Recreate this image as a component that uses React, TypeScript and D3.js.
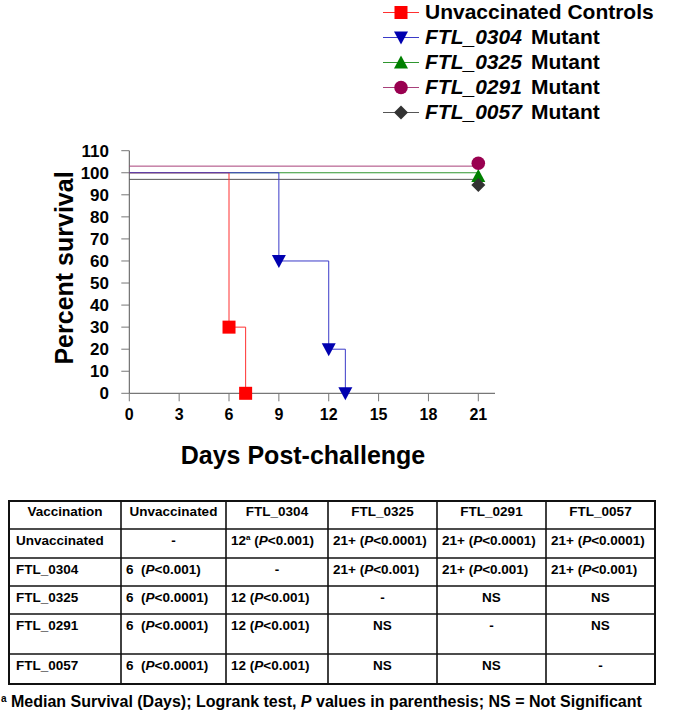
import React from "react";
import * as d3 from "d3";

const FONT = "'Liberation Sans', Arial, Helvetica, sans-serif";

// ---- survival data ----
const unvaccinated = [
  { day: 0, pct: 100 },
  { day: 6, pct: 30 },
  { day: 7, pct: 0 },
];
const ftl0304 = [
  { day: 0, pct: 100 },
  { day: 9, pct: 60 },
  { day: 12, pct: 20 },
  { day: 13, pct: 0 },
];
const ftl0325 = [
  { day: 0, pct: 100 },
  { day: 21, pct: 100 },
];
const ftl0291 = [
  { day: 0, pct: 103 },
  { day: 21, pct: 103 },
];
const ftl0057 = [
  { day: 0, pct: 97 },
  { day: 21, pct: 97 },
];
// marker positions (end markers are offset slightly in the original)
const unvaccinatedMarkers = [
  { day: 6, pct: 30 },
  { day: 7, pct: 0 },
];
const ftl0304Markers = [
  { day: 9, pct: 60 },
  { day: 12, pct: 20 },
  { day: 13, pct: 0 },
];
const ftl0325Markers = [{ day: 21, pct: 98.5 }];
const ftl0291Markers = [{ day: 21, pct: 104.3 }];
const ftl0057Markers = [{ day: 21, pct: 94.4 }];

const xTicks = [0, 3, 6, 9, 12, 15, 18, 21];
const yTicks = [0, 10, 20, 30, 40, 50, 60, 70, 80, 90, 100, 110];

const legendNames = ["Unvaccinated Controls", "FTL_0304", "FTL_0325", "FTL_0291", "FTL_0057"];

// ---- table data ----
const tableHeader = ["Vaccination", "Unvaccinated", "FTL_0304", "FTL_0325", "FTL_0291", "FTL_0057"];
const tableRowLabels = ["Unvaccinated", "FTL_0304", "FTL_0325", "FTL_0291", "FTL_0057"];
const tableCells = [
  ["-", "12^a|<0.001", "21+|<0.0001", "21+|<0.0001", "21+|<0.0001"],
  ["6 |<0.001", "-", "21+|<0.001", "21+|<0.001", "21+|<0.001"],
  ["6 |<0.0001", "12|<0.001", "-", "NS", "NS"],
  ["6 |<0.0001", "12|<0.001", "NS", "-", "NS"],
  ["6 |<0.0001", "12|<0.001", "NS", "NS", "-"],
];
const footnote = ["Median Survival (Days); Logrank test, ", "P", " values in parenthesis; NS = Not Significant"];

const colX = [9, 121, 226, 328, 437, 546, 655];
const rowY = [501, 529, 558, 586, 614, 654, 684];

const x = d3.scaleLinear().domain([0, 21]).range([129.3, 478.3]);
const y = d3.scaleLinear().domain([0, 110]).range([393.3, 150.7]);

const stepLine = d3
  .line<{ day: number; pct: number }>()
  .x((d) => x(d.day))
  .y((d) => y(d.pct))
  .curve(d3.curveStepAfter);

type Shape = "square" | "tridown" | "triup" | "circle" | "diamond";

function Marker({ shape, cx, cy, fill }: { shape: Shape; cx: number; cy: number; fill: string }) {
  if (shape === "square") return <rect x={cx - 6.5} y={cy - 6.5} width={13} height={13} fill={fill} />;
  if (shape === "circle") return <circle cx={cx} cy={cy} r={6.8} fill={fill} />;
  if (shape === "tridown")
    return <path d={`M${cx - 7},${cy - 6} L${cx + 7},${cy - 6} L${cx},${cy + 7} Z`} fill={fill} />;
  if (shape === "triup")
    return <path d={`M${cx - 7},${cy + 6} L${cx + 7},${cy + 6} L${cx},${cy - 7} Z`} fill={fill} />;
  return <path d={`M${cx},${cy - 7} L${cx + 7},${cy} L${cx},${cy + 7} L${cx - 7},${cy} Z`} fill={fill} />;
}

const seriesDefs = [
  { data: unvaccinated, markers: unvaccinatedMarkers, line: "#ff3030", fill: "#ff0000", shape: "square" as Shape },
  { data: ftl0304, markers: ftl0304Markers, line: "#3a3ac8", fill: "#0000b0", shape: "tridown" as Shape },
  { data: ftl0325, markers: ftl0325Markers, line: "#2f962f", fill: "#008000", shape: "triup" as Shape },
  { data: ftl0291, markers: ftl0291Markers, line: "#a8407a", fill: "#990050", shape: "circle" as Shape },
  { data: ftl0057, markers: ftl0057Markers, line: "#555555", fill: "#333333", shape: "diamond" as Shape },
];
const drawOrder = [4, 3, 2, 0, 1];

function Cell({ text, x0, x1, yTop }: { text: string; x0: number; x1: number; yTop: number }) {
  const base = yTop + 16;
  if (!text.includes("|")) {
    return (
      <text x={(x0 + x1) / 2} y={base} textAnchor="middle" fontSize={13.5} fontWeight="bold">
        {text}
      </text>
    );
  }
  const [valRaw, p] = text.split("|");
  const [val, sup] = valRaw.split("^");
  return (
    <text x={x0 + 5} y={base} fontSize={13.5} fontWeight="bold" xmlSpace="preserve">
      <tspan>{val}</tspan>
      {sup ? (
        <tspan fontSize={8} dy={-5}>
          {sup}
        </tspan>
      ) : null}
      <tspan dy={sup ? 5 : 0}>{" ("}</tspan>
      <tspan fontStyle="italic">P</tspan>
      <tspan>{p + ")"}</tspan>
    </text>
  );
}

export default function App() {
  const legendY = [12.5, 37.5, 62.5, 87.5, 112.5];
  return (
    <svg
      width={676}
      height={723}
      style={{ position: "absolute", left: 0, top: 0, background: "#fff" }}
      fontFamily={FONT}
    >
      <rect x={0} y={0} width={676} height={723} fill="#fff" />

      {/* legend */}
      {seriesDefs.map((s, i) => (
        <g key={"lg" + i}>
          <line x1={383} x2={419} y1={legendY[i]} y2={legendY[i]} stroke={s.line} strokeWidth={1} />
          <Marker shape={s.shape} cx={401} cy={legendY[i]} fill={s.fill} />
          {i === 0 ? (
            <text x={425} y={legendY[i] + 6.5} fontSize={21} fontWeight="bold">
              {legendNames[i]}
            </text>
          ) : (
            <text x={425} y={legendY[i] + 6.5} fontSize={21} fontWeight="bold">
              <tspan fontStyle="italic">{legendNames[i]}</tspan>
              <tspan dx={9}>Mutant</tspan>
            </text>
          )}
        </g>
      ))}

      {/* axes */}
      <line x1={x(0)} x2={x(0)} y1={y(110)} y2={y(0)} stroke="#555" strokeWidth={1} />
      <line x1={x(0)} x2={495} y1={y(0)} y2={y(0)} stroke="#555" strokeWidth={1} />
      {yTicks.map((t) => (
        <g key={"yt" + t}>
          <line x1={x(0) - 8} x2={x(0)} y1={y(t)} y2={y(t)} stroke="#777" strokeWidth={1} />
          <text x={109} y={y(t)} dy="0.36em" textAnchor="end" fontSize={17} fontWeight="bold">
            {t}
          </text>
        </g>
      ))}
      {xTicks.map((t) => (
        <g key={"xt" + t}>
          <line x1={x(t)} x2={x(t)} y1={y(0)} y2={y(0) + 8} stroke="#777" strokeWidth={1} />
          <text x={x(t)} y={420} textAnchor="middle" fontSize={16} fontWeight="bold">
            {t}
          </text>
        </g>
      ))}
      <text
        transform={`translate(73,268) rotate(-90)`}
        textAnchor="middle"
        fontSize={25}
        fontWeight="bold"
      >
        Percent survival
      </text>
      <text x={303} y={464} textAnchor="middle" fontSize={25} fontWeight="bold">
        Days Post-challenge
      </text>

      {/* series lines */}
      {drawOrder.map((i) => (
        <path key={"ln" + i} d={stepLine(seriesDefs[i].data) || ""} fill="none" stroke={seriesDefs[i].line} strokeWidth={1} />
      ))}
      {/* markers */}
      {[2, 3, 4, 0, 1].map((i) =>
        seriesDefs[i].markers.map((m, j) => (
          <Marker key={"mk" + i + "-" + j} shape={seriesDefs[i].shape} cx={x(m.day)} cy={y(m.pct)} fill={seriesDefs[i].fill} />
        ))
      )}

      {/* table */}
      <g>
        {rowY.slice(1, -1).map((ry) => (
          <line key={"hr" + ry} x1={colX[0]} x2={colX[colX.length - 1]} y1={ry} y2={ry} stroke="#111" strokeWidth={1.6} />
        ))}
        {colX.slice(1, -1).map((cx) => (
          <line key={"vr" + cx} x1={cx} x2={cx} y1={rowY[0]} y2={rowY[rowY.length - 1]} stroke="#111" strokeWidth={1.6} />
        ))}
        <rect
          x={colX[0]}
          y={rowY[0]}
          width={colX[colX.length - 1] - colX[0]}
          height={rowY[rowY.length - 1] - rowY[0]}
          fill="none"
          stroke="#111"
          strokeWidth={2}
        />
        {tableHeader.map((h, c) => (
          <text key={"th" + c} x={(colX[c] + colX[c + 1]) / 2} y={rowY[0] + 15} textAnchor="middle" fontSize={13.5} fontWeight="bold">
            {h}
          </text>
        ))}
        {tableRowLabels.map((lab, r) => (
          <g key={"tr" + r}>
            <text x={colX[0] + 7} y={rowY[r + 1] + 16} fontSize={13.5} fontWeight="bold">
              {lab}
            </text>
            {tableCells[r].map((cell, c) => (
              <Cell key={"c" + r + "-" + c} text={cell} x0={colX[c + 1]} x1={colX[c + 2]} yTop={rowY[r + 1]} />
            ))}
          </g>
        ))}
      </g>

      {/* footnote */}
      <text x={1} y={706.5} fontSize={16} fontWeight="bold" xmlSpace="preserve">
        <tspan fontSize={10} dy={-5}>a</tspan>
        <tspan dy={5}>{" " + footnote[0]}</tspan>
        <tspan fontStyle="italic">{footnote[1]}</tspan>
        <tspan>{footnote[2]}</tspan>
      </text>
    </svg>
  );
}
